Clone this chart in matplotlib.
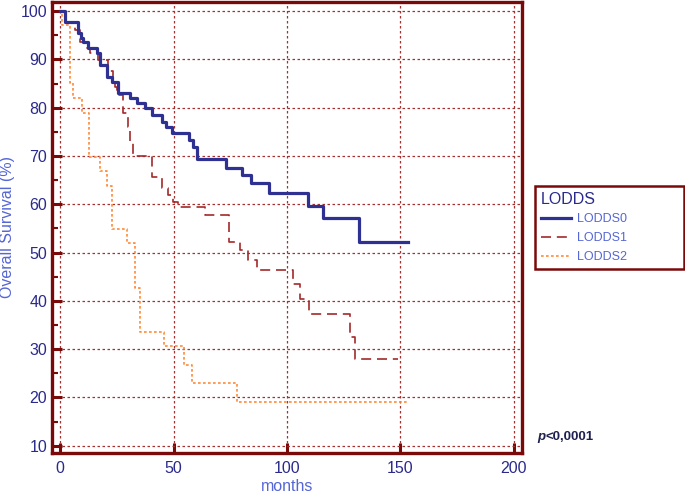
import matplotlib
matplotlib.use("Agg")
import matplotlib.pyplot as plt

# Kaplan-Meier step data (months, overall survival %)
t0 = [0, 2.2, 7.9, 9.0, 10.0, 12.3, 16.3, 17.6, 20.7, 22.9, 25.6, 30.8, 33.9, 37.4,
      40.5, 45.0, 46.5, 49.5, 56.8, 58.6, 60.4, 73.1, 80.2, 84.1, 92.1, 109.3, 115.9,
      131.7, 153.3]
s0 = [100, 97.8, 95.5, 94.4, 93.6, 92.3, 91.3, 88.8, 86.4, 85.3, 83.0, 82.0, 81.0, 80.0,
      78.6, 77.1, 76.0, 74.8, 73.3, 71.8, 69.4, 67.6, 66.1, 64.4, 62.3, 59.7, 57.2,
      52.3, 52.3]

t1 = [0, 2.2, 6.6, 8.8, 11.9, 13.2, 16.7, 21.1, 23.3, 24.2, 25.1, 27.8, 30.0, 30.8,
      32.2, 40.5, 44.9, 47.6, 49.8, 52.0, 63.9, 74.5, 79.3, 83.0, 86.6, 102.8, 105.7,
      109.8, 127.8, 130.0, 149.0]
s1 = [100, 97.8, 96.1, 93.6, 92.3, 91.3, 89.9, 87.6, 85.7, 84.3, 82.6, 78.9, 76.0, 72.7,
      70.0, 65.7, 63.4, 62.0, 60.5, 59.5, 57.8, 52.1, 50.5, 48.5, 46.5, 43.4, 40.3,
      37.2, 32.6, 27.9, 27.9]

t2 = [0, 0.7, 4.4, 5.7, 9.5, 12.9, 17.6, 20.6, 22.8, 29.4, 33.0, 35.2, 45.8, 54.8,
      58.0, 77.8, 153.3]
s2 = [100, 97.1, 85.1, 82.0, 78.9, 69.9, 66.8, 63.7, 54.8, 51.9, 42.7, 33.5, 30.6, 26.7,
      23.1, 19.0, 19.0]

labels = ["LODDS0", "LODDS1", "LODDS2"]
xticks = [0, 50, 100, 150, 200]
yticks = [10, 20, 30, 40, 50, 60, 70, 80, 90, 100]

plt.rcParams['font.family'] = ['Liberation Sans', 'DejaVu Sans']
frame = "#7a0a0a"
tickc = "#2a2a8c"
labc = "#5566d6"

fig = plt.figure(figsize=(6.85, 4.94), dpi=100)
ax = fig.add_axes([52/685, 41/494, 470/685, 451/494])

ax.step(t0, s0, where="post", color="#2e3192", lw=2.3, label=labels[0], zorder=4)
ax.step(t1, s1, where="post", color="#a32a2a", lw=1.2, dashes=(6, 3.5), label=labels[1], zorder=3)
ax.step(t2, s2, where="post", color="#ff8a3a", lw=1.2, dashes=(1.6, 1.4), label=labels[2], zorder=3)

ax.set_xlim(-3.6, 203.6)
ax.set_ylim(8.5, 101.9)
ax.set_xticks(xticks)
ax.set_yticks(yticks)
ax.set_yticks(range(15, 100, 10), minor=True)
ax.grid(True, which="major", color="#a53030", lw=0.9, ls=(0, (2, 2)))
for sp in ax.spines.values():
    sp.set_color(frame)
    sp.set_linewidth(2.4)
ax.tick_params(which="major", direction="in", length=7, width=2.2, color=frame,
               labelcolor=tickc, labelsize=11.5)
ax.tick_params(which="minor", direction="in", length=4, width=1.5, color=frame)
ax.tick_params(axis="x", pad=6)
ax.set_xlabel("months", color=labc, fontsize=11.5, labelpad=2)
ax.set_ylabel("Overall Survival (%)", color=labc, fontsize=11.5, labelpad=4)

leg = fig.legend(loc="upper left",
                 bbox_to_anchor=(535/685, (494-268)/494, 149/685, 82/494),
                 mode="expand", borderaxespad=0, title="LODDS", alignment="left",
                 fontsize=9, title_fontsize=11.5, handlelength=2.4, handletextpad=0.5,
                 borderpad=0.45, labelspacing=0.55,
                 fancybox=False, edgecolor=frame, framealpha=1)
leg.get_frame().set_linewidth(1.8)
leg.get_title().set_color(tickc)
for tx in leg.get_texts():
    tx.set_color(labc)

fig.text(537/685, (494-437)/494, "p", fontsize=9.5, fontweight="bold", style="italic",
         color="#1f2050", va="center")
fig.text(545/685, (494-437)/494, "<0,0001", fontsize=9.5, fontweight="bold",
         color="#1f2050", va="center")

fig.savefig("out.png", dpi=100)
